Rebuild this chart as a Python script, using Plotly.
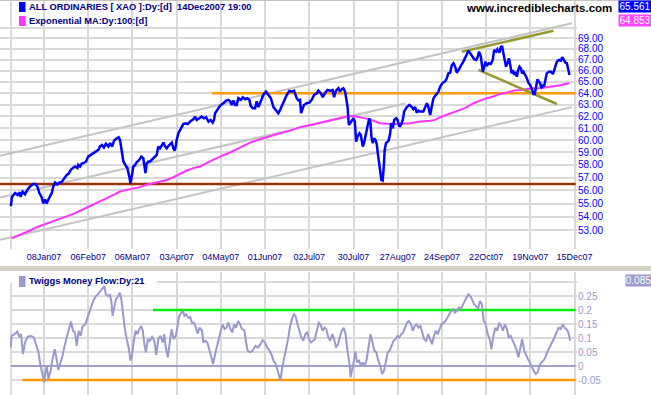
import math
import plotly.graph_objects as go

W, H = 651, 395

# ---------------- data (trading-day index) ----------------
tick_idx = [0, 15, 35, 55, 75, 95, 115, 135, 155, 175, 195, 215, 235, 255]
tick_lbl = ['', '08Jan07', '06Feb07', '06Mar07', '03Apr07', '04May07', '01Jun07', '02Jul07',
            '30Jul07', '27Aug07', '24Sep07', '22Oct07', '19Nov07', '15Dec07']

price_x = [0.0, 0.5, 1.9, 3.0, 4.0, 4.4, 5.3, 6.4, 7.5, 8.7, 10.2, 11.0, 12.0, 12.9, 13.9, 14.7,
           15.5, 16.2, 17.0, 17.7, 18.5, 19.2, 20.0, 21.0, 21.9, 23.0, 24.0, 25.3, 26.2, 27.1,
           28.0, 29.0, 30.1, 30.5, 31.3, 32.0, 32.8, 34.0, 35.0, 36.1, 37.3, 38.5, 39.6, 40.3,
           41.2, 42.1, 43.0, 44.1, 44.9, 45.8, 46.7, 47.9, 48.8, 49.4, 50.1, 50.9, 51.8, 52.7,
           53.6, 54.1, 54.7, 55.4, 56.2, 56.9, 58.1, 59.0, 59.9, 60.9, 61.5, 62.2, 63.0, 64.5,
           65.2, 66.0, 66.7, 67.5, 68.4, 69.0, 69.8, 70.5, 71.3, 72.0, 72.8, 73.5, 74.1, 74.7,
           75.0, 75.8, 76.5, 77.3, 78.0, 79.0, 80.0,
           81.1, 82.6, 83.3, 84.1, 85.3, 86.3, 87.4, 88.3, 89.4, 90.4, 91.3, 91.9, 92.4, 93.4,
           94.6, 96.1, 97.4, 98.4, 99.2, 99.9, 100.7, 101.4, 102.2, 102.9, 104.0, 104.9, 106.0,
           107.0, 107.9, 108.5, 109.4, 110.5, 111.2, 112.0, 112.7, 113.5, 114.2, 115.4, 116.5,
           117.6, 118.8, 120.0, 121.0, 121.8, 122.7, 123.6, 124.8, 126.0, 127.1, 128.1, 129.3,
           130.1, 130.8, 131.3, 131.9, 132.6, 133.8, 135.0, 136.1, 137.2, 138.4, 139.1, 140.2,
           141.1, 142.1, 143.2, 144.4, 145.6, 146.2, 147.1, 148.2, 148.9, 149.7, 150.4, 151.2,
           151.6, 152.3, 152.9, 153.5, 154.2, 155.0, 155.6, 156.2, 156.8, 157.7, 158.3, 158.7,
           159.2, 159.8, 160.4, 161.0, 161.8, 162.2, 162.7, 163.1, 163.7, 164.3, 164.9, 165.5,
           166.0, 166.6, 167.2, 167.6, 168.2, 168.7, 169.1, 169.7, 170.3, 170.9, 171.6,
           172.0, 172.8, 173.4, 174.3, 174.9, 175.8, 176.4, 177.3, 177.9, 179.1, 180.3, 181.4,
           182.1, 182.9, 183.6, 184.4, 185.1, 186.6, 187.4, 188.2, 188.9, 189.7, 190.4, 191.2,
           191.9, 192.7, 193.4, 194.2, 195.4, 196.4, 197.2, 197.9, 198.7, 199.5, 200.2, 201.0,
           201.7, 202.5, 203.2, 204.0, 204.7, 205.5, 206.3, 207.0, 207.8, 208.5, 209.6, 210.5,
           211.1, 211.8, 212.6, 213.5, 214.1, 214.7, 215.3, 216.2, 217.1, 218.0, 218.6, 219.5,
           220.1, 221.0, 221.6, 222.2, 222.8, 223.4, 224.0, 224.7, 225.3, 225.9, 226.5, 227.1,
           227.7, 228.3, 228.9, 229.5, 230.1, 230.7, 231.3, 231.9, 232.5, 233.4, 234.2, 234.9,
           235.7, 236.4, 237.0, 237.6, 238.2, 238.8, 239.4, 240.0, 240.6, 241.2, 241.8, 242.4,
           243.4, 244.3, 245.2, 246.1, 247.0, 247.9, 248.8, 249.4, 250.0, 250.9, 251.5, 252.3,
           252.7]
price_v = [54.8, 55.5, 55.8, 55.65, 55.85, 55.5, 55.9, 55.7, 56.05, 56.3, 56.5, 56.5, 56.3, 55.8,
           55.5, 55.0, 55.3, 55.0, 55.3, 55.5, 55.8, 56.3, 56.6, 56.45, 56.6, 56.65, 56.87, 57.2,
           57.3, 57.6, 57.74, 57.87, 57.74, 58.0, 57.87, 58.08, 58.13, 58.27, 58.66, 58.8, 58.93,
           59.07, 59.2, 59.47, 59.6, 59.4, 59.7, 59.47, 59.75, 59.47, 59.96, 60.15, 60.24, 60.0,
           59.2, 58.27, 58.0, 57.74, 57.07, 56.55, 57.07, 57.87, 58.0, 58.2, 58.4, 58.66, 58.53,
           57.35, 58.13, 58.27, 58.27, 58.53, 58.66, 58.8, 59.47, 59.33, 59.6, 59.8, 59.47, 59.33,
           59.54, 59.7, 59.8, 59.33, 59.14, 59.6, 60.0, 60.57, 60.85, 61.13, 61.34, 61.4, 61.34,
           61.55, 61.75, 61.97, 61.69, 61.83, 61.97, 61.83, 61.92, 61.55, 61.69, 61.46, 61.69,
           62.26, 62.54, 62.89, 63.12, 63.35, 63.41, 63.29, 62.97, 63.35, 62.97, 62.97, 63.56,
           63.41, 63.64, 63.47, 63.56, 63.41, 62.89, 62.69, 62.69, 63.29, 62.78, 63.12, 63.56,
           63.84, 64.13, 63.84, 63.56, 62.78, 62.54, 62.26, 62.54, 62.97, 63.41, 63.84, 64.19,
           64.13, 64.22, 63.56, 63.35, 63.41, 62.26, 62.69, 62.97, 63.12, 63.17, 63.41, 63.84,
           63.99, 64.22, 63.99, 63.64, 63.99, 64.28, 64.22, 64.28, 63.64, 64.22, 64.43, 64.13,
           64.35, 64.43, 64.13, 63.64, 62.83, 61.26, 61.41, 61.69, 61.83, 61.55, 59.88, 60.29,
           60.57, 60.43, 60.02, 59.48, 59.8, 60.24, 60.85, 61.55, 61.83, 61.41, 60.29, 59.75,
           60.16, 60.02, 59.7, 58.93, 57.87, 57.34, 56.81, 56.76, 57.87, 59.2, 59.75, 59.88,
           59.96, 60.57,
           61.41, 60.99, 61.69, 61.83, 61.69, 61.12, 61.26, 61.69, 62.4, 62.78, 62.97, 62.78,
           62.6, 62.78, 62.31, 62.48, 62.4, 62.4, 62.83, 63.12, 62.78, 62.11, 62.83, 63.56,
           63.76, 63.93, 64.13, 64.58, 64.93, 65.02, 65.32, 65.76, 65.82, 66.52, 66.68, 66.37,
           65.82, 66.06, 66.37, 66.61, 66.83, 67.23, 67.6, 67.84, 67.6, 67.35, 67.05, 66.98,
           67.23, 67.75, 67.29, 65.91, 66.52, 66.83, 66.43, 66.68, 66.61, 66.98, 67.9, 67.75,
           67.97, 67.66, 68.16, 68.28, 67.6, 66.98, 66.37, 66.73, 67.14, 66.52, 65.76, 66.06,
           65.61, 65.91, 65.46, 66.06, 66.37, 66.22, 65.76, 65.91, 65.7, 65.32, 64.88, 64.73,
           64.35, 63.93, 63.93, 64.43, 65.23, 65.02, 64.88, 64.43, 64.73, 64.58, 65.32, 65.76,
           65.91, 65.91, 65.7, 66.22, 66.83, 66.98, 66.92, 67.23, 66.98, 66.73, 66.68, 66.06,
           65.61]

ema_x = [0.4, 4.1, 8.7, 11.7, 14.7, 19.2, 23.7, 28.3, 32.8, 37.3, 40.3, 43.4, 46.4, 49.4, 52.4,
         55.4, 58.4, 61.5, 64.5, 67.5, 70.5, 73.5, 76.5, 79.6, 82.6, 85.6, 90.1, 94.6, 99.2,
         103.7, 108.2, 112.7, 117.3, 121.8, 126.3, 130.8, 135.4, 139.9, 144.4, 148.9, 151.9,
         155.0, 158.0, 161.0, 164.0, 167.0, 171.6, 176.1, 180.6, 185.1, 189.7, 191.9, 194.2,
         197.2, 200.2, 203.2, 206.3, 209.3, 212.3, 215.3, 218.3, 221.3, 224.4, 227.4, 230.4,
         233.4, 236.4, 239.4, 242.4, 245.5, 248.5, 250.7, 252.7]
ema_v = [52.43, 52.67, 53.0, 53.24, 53.41, 53.65, 53.90, 54.22, 54.57, 54.90, 55.15, 55.41, 55.66,
         55.91, 56.04, 56.12, 56.25, 56.43, 56.56, 56.68, 56.81, 57.02, 57.28, 57.55, 57.74,
         57.87, 58.27, 58.66, 58.99, 59.4, 59.8, 60.07, 60.35, 60.57, 60.79, 61.08, 61.26,
         61.46, 61.62, 61.83, 61.97, 62.02, 61.92, 61.80, 61.62, 61.41, 61.34, 61.34, 61.41,
         61.55, 61.62, 61.69, 61.92, 62.11, 62.31, 62.54, 62.78, 63.12, 63.35, 63.56, 63.70,
         63.93, 64.05, 64.22, 64.28, 64.35, 64.43, 64.43, 64.52, 64.58, 64.70, 64.81, 64.88]

tmf_x = [0.0, 0.3, 1.7, 2.9, 3.8, 4.6, 5.5, 6.4, 7.6, 9.0, 10.4, 11.6, 12.5, 13.3, 14.2, 15.1,
         15.6, 16.3, 17.0, 18.0, 19.0, 19.9, 20.8, 21.5, 22.5, 23.4, 24.3, 25.5, 26.4, 27.2,
         28.1, 29.0, 29.8, 30.7, 31.6, 32.4, 33.7, 34.7, 35.4, 36.4, 37.6, 38.5, 39.4, 40.6,
         41.5, 42.3, 43.0, 44.1, 44.8, 45.5, 46.0, 46.7, 47.5, 48.6, 49.3, 50.0, 50.7, 51.5,
         52.4, 53.3, 54.1, 54.8, 55.5, 56.4, 57.3, 58.1, 59.0, 59.7, 60.4, 61.1, 62.0, 62.8,
         63.9, 64.9, 65.8, 66.7, 67.7, 68.7, 69.4, 70.1, 71.0, 71.9, 72.7, 73.6, 74.6, 75.3,
         76.2, 77.1, 77.8, 78.5, 79.3, 80.2, 81.1, 81.9, 82.8, 83.7, 84.5, 85.4, 86.5, 87.1,
         88.0, 88.9, 89.8, 90.6, 91.5, 92.4, 93.2, 94.1, 95.0, 95.8, 96.7, 97.6, 98.4, 99.3,
         100.2, 101.0, 101.9, 102.8, 103.7, 104.5, 105.6, 106.3, 107.1, 108.3, 109.4, 110.6,
         111.8, 112.9, 113.9, 115.0, 116.0, 117.0, 118.1, 118.8, 119.8, 120.5, 121.2, 121.9,
         122.8, 123.6, 124.5, 125.4, 126.2, 127.1, 128.0, 128.8, 129.7, 130.6, 131.4, 132.3,
         133.2, 134.1, 134.9, 135.8, 136.7, 137.5, 138.4, 139.3, 140.1, 141.0, 141.9, 142.7,
         143.6, 144.5, 145.4, 146.2, 147.1, 148.0, 148.8, 149.7, 150.6, 151.4, 152.3, 153.2,
         153.7, 154.4, 155.2, 155.9, 156.6, 157.5, 158.4, 159.2, 160.1, 161.0, 161.8, 162.7,
         163.6, 164.4, 165.3, 166.2, 167.1, 167.9, 168.8, 169.7, 170.5, 171.4, 172.3, 173.1,
         174.0, 174.9, 175.7, 176.6, 177.5, 178.4, 179.2, 180.1, 181.0, 181.8, 182.7, 183.6,
         184.4, 185.3, 186.2, 187.0, 187.9, 188.8, 189.6, 190.5, 191.4, 192.2, 193.1, 194.0,
         194.8, 195.7, 196.6, 197.5, 198.3, 199.2, 200.1, 200.9, 201.8, 202.7, 203.5, 204.4,
         205.3, 206.1, 207.0, 207.9, 208.7, 209.6, 210.5, 211.3, 212.2, 213.1, 213.9, 214.8,
         215.7, 216.6, 217.4, 218.3, 219.2, 220.0, 220.9, 221.8, 222.6, 223.5, 224.4, 225.2,
         226.1, 227.0, 227.9, 228.7, 229.6, 230.5, 231.3, 232.2, 233.1, 233.9, 234.8, 235.7,
         236.5, 237.4, 238.3, 239.1, 240.0, 240.9, 241.8, 242.6, 243.5, 244.4, 245.2, 246.1,
         247.0, 247.8, 248.7, 249.6, 250.4, 251.3, 252.2, 253.0]
tmf_v = [0.066, 0.108, 0.114, 0.123, 0.104, 0.114, 0.043, 0.084, 0.104, 0.108, 0.102, 0.072,
         0.049, 0.007, -0.028, -0.058, -0.023, -0.002, -0.046, -0.017, 0.031, 0.060, 0.019,
         -0.014, 0.013, 0.037, 0.072, 0.108, 0.137, 0.159, 0.126, 0.120, 0.072, 0.126, 0.108,
         0.140, 0.149, 0.173, 0.197, 0.214, 0.238, 0.250, 0.256, 0.268, 0.280, 0.286, 0.256,
         0.250, 0.254, 0.232, 0.179, 0.214, 0.238, 0.250, 0.262, 0.238, 0.185, 0.137, 0.096,
         0.066, 0.019, 0.037, 0.084, 0.126, 0.114, 0.132, 0.143, 0.126, 0.078, 0.049, 0.096,
         0.090, 0.104, 0.090, 0.040, 0.096, 0.108, 0.084, 0.114, 0.066, 0.031, 0.096, 0.132,
         0.096, 0.108, 0.137, 0.179, 0.191, 0.197, 0.179, 0.185, 0.173, 0.175, 0.155, 0.155,
         0.137, 0.116, 0.137, 0.126, 0.084, 0.090, 0.084, 0.055, 0.031, 0.007, 0.043, 0.072,
         0.096, 0.126, 0.149, 0.132, 0.137, 0.155, 0.132, 0.120, 0.149, 0.137, 0.161, 0.149,
         0.132, 0.128, 0.090, 0.055, 0.049, 0.055, 0.072, 0.066, 0.078, 0.092, 0.084, 0.066,
         0.055, 0.037, 0.019, 0.007, -0.011, -0.028, -0.052, -0.005, 0.025, 0.055, 0.096,
         0.137, 0.167, 0.185, 0.179, 0.149, 0.126, 0.102, 0.090, 0.114, 0.120, 0.096, 0.084,
         0.090, 0.096, 0.126, 0.155, 0.149, 0.126, 0.137, 0.132, 0.102, 0.090, 0.114, 0.096,
         0.066, 0.078, 0.102, 0.126, 0.137, 0.114, 0.055, 0.007, -0.040, -0.005, 0.019, 0.052,
         0.013, 0.019, 0.001, 0.013, 0.001, 0.025, 0.072, 0.114, 0.084, 0.055, 0.049, 0.019,
         0.001, -0.028, -0.017, 0.025, 0.049, 0.055, 0.072, 0.090, 0.096, 0.108, 0.102, 0.114,
         0.120, 0.143, 0.155, 0.161, 0.149, 0.126, 0.143, 0.149, 0.137, 0.143, 0.120, 0.096,
         0.090, 0.114, 0.096, 0.078, 0.108, 0.126, 0.114, 0.137, 0.149, 0.155, 0.161, 0.173,
         0.185, 0.197, 0.203, 0.191, 0.197, 0.209, 0.203, 0.220, 0.232, 0.244, 0.256, 0.250,
         0.238, 0.220, 0.214, 0.203, 0.232, 0.220, 0.161, 0.149, 0.114, 0.096, 0.060, 0.108,
         0.137, 0.126, 0.155, 0.143, 0.126, 0.149, 0.132, 0.102, 0.108, 0.090, 0.072, 0.060,
         0.031, 0.066, 0.096, 0.055, 0.037, 0.025, 0.013, -0.005, -0.017, -0.028, -0.023,
         0.001, 0.013, 0.019, 0.031, 0.049, 0.066, 0.078, 0.090, 0.108, 0.126, 0.137, 0.132,
         0.149, 0.137, 0.132, 0.120, 0.090]

# trend / channel lines (start index, end index, start value, end value)
chan_upper_x, chan_upper_v = [-4.9, 253.8], [58.73, 70.44]
chan_mid_x, chan_mid_v = [-4.9, 178.3], [55.45, 63.09]
chan_lower_x, chan_lower_v = [-4.9, 253.8], [52.32, 62.78]
support_x, support_v = [-4.9, 255.5], [56.5, 56.5]
resist_x, resist_v = [90.9, 255.5], [64.0, 64.0]
olive_up_x, olive_up_v = [204.0, 245.5], [67.75, 69.72]
olive_dn_x, olive_dn_v = [211.5, 247.0], [66.07, 63.05]
tmf_green_x, tmf_green_v = [64.3, 255.5], [0.2, 0.2]
tmf_orange_x, tmf_orange_v = [5.2, 255.5], [-0.05, -0.05]
tmf_zero_x, tmf_zero_v = [0.0, 255.5], [0.0, 0.0]

price_ticks = list(range(53, 71))
price_tick_text = ['%d.00' % v if v < 70 else '' for v in price_ticks]
tmf_ticks = [-0.05, 0, 0.05, 0.1, 0.15, 0.2, 0.25, 0.3]
tmf_tick_text = ['-0.05', '0', '0.05', '0.1', '0.15', '0.2', '0.25', '']

last_price, last_ema, last_tmf = '65.561', '64.853', '0.085'

# ---------------- layout geometry ----------------
XR = [-4.9, 256.1]
Y1R = [51.67, 72.63]
Y2R = [-0.1036, 0.336]
GRID = '#d9d9d9'
NAVY = '#000080'
FONT = 'Liberation Sans'
MR = 74
PW = W - MR


def px(x):
    return x / PW


def py(y):
    return 1 - y / H


fig = go.Figure()


def line(x, y, color, width, xa='x', ya='y'):
    fig.add_trace(go.Scatter(x=x, y=y, mode='lines', xaxis=xa, yaxis=ya,
                             line=dict(color=color, width=width), hoverinfo='skip'))


line(chan_upper_x, chan_upper_v, '#c4c4c4', 2)
line(chan_mid_x, chan_mid_v, '#c4c4c4', 2)
line(chan_lower_x, chan_lower_v, '#c4c4c4', 2)
line(support_x, support_v, '#993300', 2.5)
line(resist_x, resist_v, '#ff9900', 2.5)
line(ema_x, ema_v, '#ff33ff', 2)
line(olive_up_x, olive_up_v, '#999933', 2.5)
line(olive_dn_x, olive_dn_v, '#999933', 2.5)
line(price_x, price_v, '#0000ff', 2.5)

line(tmf_zero_x, tmf_zero_v, '#8c8cc4', 1.5, 'x2', 'y2')
line(tmf_green_x, tmf_green_v, '#00ee00', 2.5, 'x2', 'y2')
line(tmf_orange_x, tmf_orange_v, '#ff9900', 2.5, 'x2', 'y2')
line(tmf_x, tmf_v, '#9999cc', 2, 'x2', 'y2')

ax_common = dict(range=XR, tickmode='array', tickvals=tick_idx, showgrid=True, gridcolor=GRID,
                 gridwidth=1.5, zeroline=False, showline=False, ticks='', fixedrange=True)

fig.update_layout(
    template='none', width=W, height=H, showlegend=False,
    margin=dict(l=0, r=MR, t=0, b=0, pad=0),
    paper_bgcolor='white', plot_bgcolor='white',
    xaxis=dict(**ax_common, anchor='y', ticktext=tick_lbl, ticklabelstandoff=1,
               tickfont=dict(family=FONT, size=9, color=NAVY)),
    xaxis2=dict(**ax_common, anchor='y2', matches='x', showticklabels=False),
    yaxis=dict(type='log', range=[math.log10(Y1R[0]), math.log10(Y1R[1])],
               domain=[py(249), py(1)], side='right', anchor='x', tickmode='array',
               tickvals=price_ticks, ticktext=price_tick_text, showgrid=True, gridcolor=GRID,
               gridwidth=1.5, zeroline=False, showline=False, ticks='', fixedrange=True,
               tickfont=dict(family=FONT, size=10, color='#0000ff')),
    yaxis2=dict(range=Y2R, domain=[0, py(272)], side='right', anchor='x2', tickmode='array',
                tickvals=tmf_ticks, ticktext=tmf_tick_text, showgrid=True, gridcolor=GRID,
                gridwidth=1.5, zeroline=False, showline=False, ticks='', fixedrange=True,
                tickfont=dict(family=FONT, size=10, color='#9999cc')),
)

L = math.log10
shapes = [
    # white masks over the grid (left margin and legend areas)
    dict(type='rect', xref='x', yref='y', x0=XR[0], x1=-0.3, y0=L(Y1R[0]), y1=L(Y1R[1]),
         fillcolor='white', line_width=0, layer='between'),
    dict(type='rect', xref='x', yref='y', x0=XR[0], x1=176, y0=L(70.2), y1=L(Y1R[1]),
         fillcolor='white', line_width=0, layer='between'),
    dict(type='rect', xref='x2', yref='y2', x0=XR[0], x1=-0.3, y0=Y2R[0], y1=Y2R[1],
         fillcolor='white', line_width=0, layer='between'),
    dict(type='rect', xref='x2', yref='y2', x0=XR[0], x1=66, y0=0.297, y1=Y2R[1],
         fillcolor='white', line_width=0, layer='between'),
    # frame bands
    dict(type='rect', xref='paper', yref='paper', x0=0, x1=W / PW, y0=py(271), y1=py(266),
         fillcolor='#d4d0c8', line_width=0, layer='above'),
    dict(type='line', xref='paper', yref='paper', x0=0, x1=W / PW, y0=py(0.5), y1=py(0.5),
         line=dict(color='#c8c4bc', width=1), layer='above'),
    # legend swatches
    dict(type='rect', xref='paper', yref='paper', x0=px(19), x1=px(25.5), y0=py(12), y1=py(2),
         fillcolor='#0000ff', line_width=0, layer='above'),
    dict(type='rect', xref='paper', yref='paper', x0=px(19), x1=px(25.5), y0=py(26), y1=py(16),
         fillcolor='#ff33ff', line_width=0, layer='above'),
    dict(type='rect', xref='paper', yref='paper', x0=px(19), x1=px(25.5), y0=py(287), y1=py(276),
         fillcolor='#9999cc', line_width=0, layer='above'),
]
fig.update_layout(shapes=shapes)


def text(x, y, s, size=10, color=NAVY, anchor='left', bold=False, bg=None, w=None):
    fig.add_annotation(xref='paper', yref='paper', x=px(x), y=py(y), text=s, showarrow=False,
                       xanchor=anchor, yanchor='middle',
                       font=dict(family=FONT, size=size, color=color,
                                 weight='bold' if bold else 'normal'),
                       bgcolor=bg, width=w, borderpad=0)


text(28, 7, 'ALL ORDINARIES [ XAO ]:Dy:[d]\u00a0\u00a014Dec2007 19:00', size=9.3, bold=True)
text(28, 21, 'Exponential MA:Dy:100:[d]', size=9.3, bold=True)
text(28, 281, 'Twiggs Money Flow:Dy:21', size=9.3, bold=True)
text(613, 8, 'www.incrediblecharts.com', size=11.5, color='black', anchor='right', bold=True)
text(618, 7, last_price, size=10, color='white', bg='#0000ff', w=32)
text(618, 21, last_ema, size=10, color='white', bg='#ff44ff', w=32)
text(625, 280, last_tmf, size=10, color='white', bg='#9999cc', w=25)

fig.write_html('out.html', config={'displayModeBar': False},
               post_script="document.body.style.margin='0';")
